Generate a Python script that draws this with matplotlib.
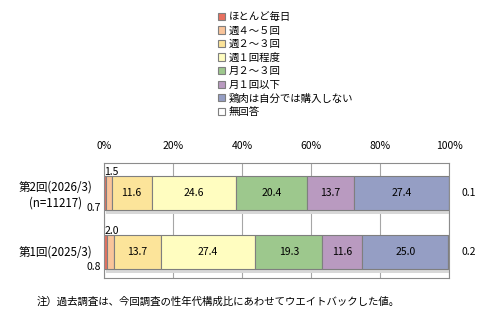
import matplotlib.pyplot as plt
import numpy as np

plt.rcParams['font.family'] = ['Noto Sans CJK JP', 'DejaVu Sans']

categories = ['ほとんど毎日', '週４～５回', '週２～３回', '週１回程度',
              '月２～３回', '月１回以下', '鶏肉は自分では購入しない', '無回答']
rows = ['第2回(2026/3)\n(n=11217)', '第1回(2025/3)']
values_2026 = [0.7, 1.5, 11.6, 24.6, 20.4, 13.7, 27.4, 0.1]
values_2025 = [0.8, 2.0, 13.7, 27.4, 19.3, 11.6, 25.0, 0.2]
colors = ['#E8705F', '#F9C49A', '#FCE49A', '#FFFDC0',
          '#9DC88D', '#B99AC0', '#959EC4', '#FFFFFF']
tick_labels = ['0%', '20%', '40%', '60%', '80%', '100%']

data = np.array([values_2026, values_2025])

fig = plt.figure(figsize=(4.85, 3.27), dpi=100)
ax = fig.add_axes([104 / 485, 1 - 278 / 327, 345 / 485, 115 / 327])

ypos = np.arange(len(rows))
h = 0.58
left = np.zeros(len(rows))
# soft shadow under each bar
for i in range(len(rows)):
    ax.barh(ypos[i] + 0.06, data[i].sum(), left=0.6, height=h,
            color='#d8d8d8', edgecolor='none', zorder=1.5)
for j, cat in enumerate(categories):
    ax.barh(ypos, data[:, j], left=left, height=h, color=colors[j],
            edgecolor='#7f7f7f', linewidth=0.8, label=cat, zorder=2)
    for i in range(len(rows)):
        v = data[i, j]
        cx = left[i] + v / 2
        if v >= 5:
            ax.text(cx, ypos[i], f'{v:.1f}', ha='center', va='center', fontsize=7.5, zorder=3)
    left += data[:, j]

# small segments labelled outside the bar
for i in range(len(rows)):
    ax.text(-1.0, ypos[i] + 0.25, f'{data[i, 0]:.1f}', ha='right', va='center', fontsize=7.5)
    ax.text(data[i, 0] - 0.6, ypos[i] - 0.36, f'{data[i, 1]:.1f}', ha='left', va='center', fontsize=7.5)
    ax.text(103.5, ypos[i], f'{data[i, 7]:.1f}', ha='left', va='center', fontsize=7.5)

ax.set_xlim(0, 100)
ax.set_ylim(1.44, -0.51)
ax.set_xticks(np.arange(0, 101, 20))
ax.set_xticklabels(tick_labels, fontsize=7.5)
ax.xaxis.tick_top()
ax.tick_params(axis='x', length=0, pad=9)
ax.set_yticks([])
ax.grid(axis='x', color='#a6a6a6', linewidth=0.8, zorder=0)
ax.set_axisbelow(True)
for s in ax.spines.values():
    s.set_color('#8c8c8c')
    s.set_linewidth(0.8)

fig.text(92 / 485, 1 - 187 / 327, '第2回(2026/3)', ha='right', va='center', fontsize=8.3)
fig.text(82 / 485, 1 - 203 / 327, '(n=11217)', ha='right', va='center', fontsize=8.3)
fig.text(92 / 485, 1 - 252 / 327, '第1回(2025/3)', ha='right', va='center', fontsize=8.3)

handles, labels = ax.get_legend_handles_labels()
fig.legend(handles, labels, loc='upper left', bbox_to_anchor=(218 / 485, 1 - 12 / 327),
           frameon=False, fontsize=7.5, handlelength=0.7, handleheight=0.7,
           handletextpad=0.3, labelspacing=0.34, borderaxespad=0, borderpad=0)

fig.text(37 / 485, 1 - 302 / 327, '注）過去調査は、今回調査の性年代構成比にあわせてウエイトバックした値。',
         ha='left', va='center', fontsize=7.5)

fig.savefig('out.png', dpi=100)
